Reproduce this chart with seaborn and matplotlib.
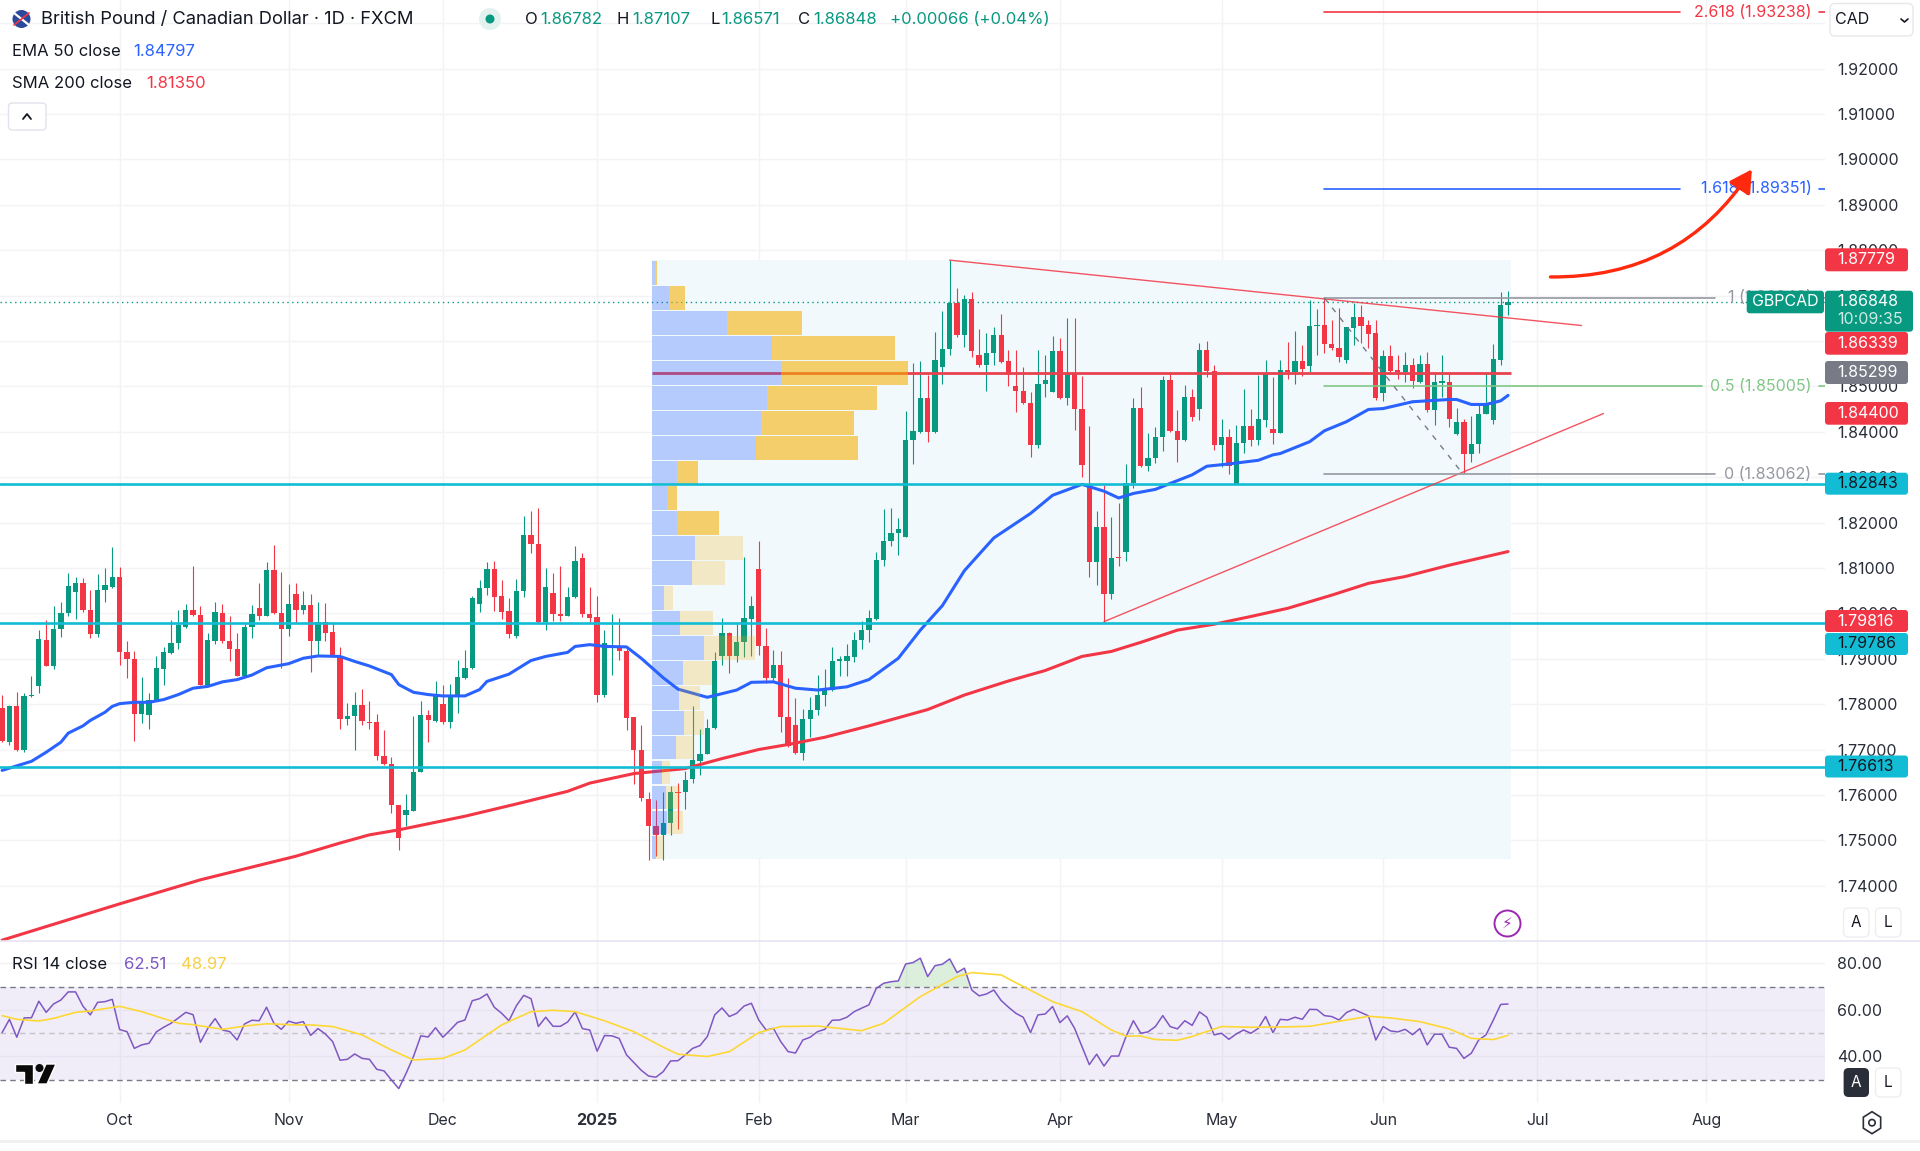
import numpy as np
import pandas as pd
import matplotlib
matplotlib.use("Agg")
import matplotlib.pyplot as plt
import seaborn as sns
from matplotlib.patches import FancyBboxPatch, FancyArrowPatch, Circle, Polygon, Rectangle
from matplotlib.transforms import IdentityTransform

sns.set_theme(style="white", rc={"font.family": "Inter"})

W, H = 1920, 1151

# --------------------------------------------------
# 1. VALUES
# --------------------------------------------------

opens = [
    1.7791, 1.7716, 1.7795, 1.7698, 1.7817, 1.7839, 1.7942, 1.7884, 1.7966, 1.8000,
    1.8046, 1.8066, 1.8008, 1.7955, 1.8052, 1.8059, 1.8080, 1.7914, 1.7899, 1.7778,
    1.7777, 1.7808, 1.7878, 1.7912, 1.7934, 1.7970, 1.8008, 1.7997, 1.7843, 1.7939,
    1.8000, 1.7939, 1.7922, 1.7863, 1.7969, 1.8011, 1.7994, 1.8096, 1.8000, 1.7965,
    1.8042, 1.8008, 1.8019, 1.7939, 1.7981, 1.7959, 1.7905, 1.7767, 1.7774, 1.7799,
    1.7761, 1.7760, 1.7686, 1.7668, 1.7578, 1.7556, 1.7565, 1.7651, 1.7777, 1.7763,
    1.7801, 1.7761, 1.7817, 1.7857, 1.7879, 1.8021, 1.8055, 1.8097, 1.8038, 1.8004,
    1.7949, 1.8049, 1.8172, 1.8153, 1.7980, 1.8044, 1.7999, 1.7994, 1.8036, 1.8122,
    1.7999, 1.7991, 1.7821, 1.7923, 1.7929, 1.7916, 1.7771, 1.7698, 1.7591, 1.7531,
    1.7511, 1.7538, 1.7607, 1.7607, 1.7634, 1.7675, 1.7690, 1.7747, 1.7907, 1.7956,
    1.7907, 1.7936, 1.7988, 1.8098, 1.7927, 1.7858, 1.7886, 1.7772, 1.7754, 1.7693,
    1.7767, 1.7786, 1.7820, 1.7831, 1.7896, 1.7895, 1.7903, 1.7941, 1.7963, 1.7988,
    1.8117, 1.8160, 1.8177, 1.8168, 1.8381, 1.8400, 1.8474, 1.8400, 1.8542, 1.8582,
    1.8683, 1.8613, 1.8692, 1.8568, 1.8547, 1.8574, 1.8612, 1.8555, 1.8500, 1.8489,
    1.8463, 1.8371, 1.8506, 1.8488, 1.8577, 1.8474, 1.8528, 1.8451, 1.8284, 1.8112,
    1.8190, 1.8043, 1.8123, 1.8134, 1.8286, 1.8453, 1.8324, 1.8341, 1.8389, 1.8514,
    1.8402, 1.8381, 1.8476, 1.8451, 1.8579, 1.8534, 1.8371, 1.8388, 1.8285, 1.8376,
    1.8413, 1.8382, 1.8426, 1.8405, 1.8398, 1.8537, 1.8532, 1.8556, 1.8545, 1.8633,
    1.8634, 1.8594, 1.8585, 1.8557, 1.8629, 1.8653, 1.8634, 1.8617, 1.8486, 1.8567,
    1.8536, 1.8532, 1.8546, 1.8509, 1.8550, 1.8448, 1.8508, 1.8509, 1.8394, 1.8421,
    1.8350, 1.8372, 1.8439, 1.8426, 1.8559, 1.8678,
]
closes = [
    1.7718, 1.7795, 1.7698, 1.7818, 1.7821, 1.7943, 1.7884, 1.7966, 1.8000, 1.8060,
    1.8066, 1.8008, 1.7955, 1.8052, 1.8062, 1.8080, 1.7914, 1.7899, 1.7779, 1.7804,
    1.7810, 1.7879, 1.7914, 1.7934, 1.7975, 1.8008, 1.7996, 1.7843, 1.7941, 1.8003,
    1.7938, 1.7921, 1.7863, 1.7969, 1.7998, 1.7994, 1.8096, 1.8000, 1.7965, 1.8021,
    1.8008, 1.8019, 1.7939, 1.7981, 1.7956, 1.7905, 1.7767, 1.7774, 1.7799, 1.7762,
    1.7759, 1.7685, 1.7667, 1.7578, 1.7504, 1.7567, 1.7651, 1.7777, 1.7766, 1.7823,
    1.7760, 1.7818, 1.7859, 1.7879, 1.8034, 1.8055, 1.8097, 1.8037, 1.8003, 1.7954,
    1.8050, 1.8172, 1.8152, 1.7980, 1.8058, 1.7999, 1.7994, 1.8036, 1.8115, 1.7999,
    1.7990, 1.7821, 1.7934, 1.7929, 1.7916, 1.7770, 1.7698, 1.7594, 1.7531, 1.7512,
    1.7539, 1.7606, 1.7604, 1.7633, 1.7676, 1.7691, 1.7747, 1.7895, 1.7956, 1.7907,
    1.7936, 1.7989, 1.8017, 1.7927, 1.7858, 1.7886, 1.7772, 1.7707, 1.7693, 1.7768,
    1.7787, 1.7821, 1.7833, 1.7895, 1.7899, 1.7905, 1.7941, 1.7963, 1.7989, 1.8118,
    1.8160, 1.8177, 1.8185, 1.8382, 1.8401, 1.8474, 1.8400, 1.8559, 1.8582, 1.8683,
    1.8613, 1.8692, 1.8577, 1.8547, 1.8573, 1.8612, 1.8554, 1.8524, 1.8489, 1.8463,
    1.8371, 1.8506, 1.8513, 1.8577, 1.8474, 1.8528, 1.8451, 1.8327, 1.8112, 1.8190,
    1.8043, 1.8121, 1.8121, 1.8286, 1.8453, 1.8324, 1.8342, 1.8389, 1.8514, 1.8402,
    1.8381, 1.8476, 1.8433, 1.8579, 1.8534, 1.8371, 1.8388, 1.8324, 1.8376, 1.8413,
    1.8382, 1.8427, 1.8529, 1.8398, 1.8537, 1.8531, 1.8556, 1.8539, 1.8633, 1.8635,
    1.8593, 1.8585, 1.8565, 1.8630, 1.8653, 1.8633, 1.8615, 1.8474, 1.8567, 1.8534,
    1.8532, 1.8546, 1.8512, 1.8550, 1.8448, 1.8509, 1.8511, 1.8427, 1.8421, 1.8350,
    1.8373, 1.8440, 1.8460, 1.8560, 1.8678, 1.8685,
]
highs = [
    1.7821, 1.7797, 1.7826, 1.7824, 1.7863, 1.7963, 1.7986, 1.8015, 1.8026, 1.8088,
    1.8079, 1.8077, 1.8052, 1.8087, 1.8099, 1.8146, 1.8103, 1.7938, 1.7917, 1.7859,
    1.7824, 1.7905, 1.7926, 1.7986, 1.8008, 1.8020, 1.8105, 1.8015, 1.7956, 1.8026,
    1.8020, 1.7994, 1.7956, 1.7977, 1.8018, 1.8066, 1.8112, 1.8150, 1.8090, 1.8065,
    1.8066, 1.8050, 1.8042, 1.8026, 1.8022, 1.7981, 1.7925, 1.7802, 1.7826, 1.7833,
    1.7807, 1.7778, 1.7744, 1.7683, 1.7578, 1.7602, 1.7773, 1.7806, 1.7788, 1.7850,
    1.7843, 1.7845, 1.7897, 1.7920, 1.8039, 1.8074, 1.8112, 1.8116, 1.8074, 1.8033,
    1.8075, 1.8215, 1.8226, 1.8232, 1.8099, 1.8088, 1.8105, 1.8058, 1.8149, 1.8133,
    1.8057, 1.8038, 1.7964, 1.7999, 1.7989, 1.7923, 1.7771, 1.7753, 1.7607, 1.7588,
    1.7607, 1.7620, 1.7627, 1.7653, 1.7795, 1.7746, 1.7768, 1.7914, 1.7989, 1.7959,
    1.7977, 1.8125, 1.8038, 1.8159, 1.7968, 1.7920, 1.7918, 1.7857, 1.7813, 1.7790,
    1.7815, 1.7865, 1.7878, 1.7925, 1.7907, 1.7932, 1.7959, 1.7984, 1.8008, 1.8134,
    1.8229, 1.8231, 1.8211, 1.8446, 1.8552, 1.8555, 1.8525, 1.8620, 1.8666, 1.8779,
    1.8716, 1.8701, 1.8707, 1.8626, 1.8617, 1.8631, 1.8660, 1.8579, 1.8579, 1.8542,
    1.8488, 1.8579, 1.8568, 1.8610, 1.8606, 1.8651, 1.8651, 1.8523, 1.8413, 1.8226,
    1.8283, 1.8213, 1.8242, 1.8328, 1.8475, 1.8498, 1.8398, 1.8411, 1.8523, 1.8529,
    1.8448, 1.8502, 1.8495, 1.8595, 1.8599, 1.8546, 1.8427, 1.8407, 1.8415, 1.8493,
    1.8449, 1.8525, 1.8558, 1.8521, 1.8558, 1.8598, 1.8622, 1.8591, 1.8691, 1.8670,
    1.8694, 1.8647, 1.8672, 1.8630, 1.8684, 1.8678, 1.8646, 1.8647, 1.8580, 1.8591,
    1.8569, 1.8575, 1.8562, 1.8570, 1.8575, 1.8527, 1.8569, 1.8527, 1.8453, 1.8429,
    1.8435, 1.8461, 1.8529, 1.8593, 1.8707, 1.8711,
]
lows = [
    1.7716, 1.7711, 1.7696, 1.7694, 1.7815, 1.7824, 1.7883, 1.7878, 1.7948, 1.7994,
    1.7987, 1.8003, 1.7945, 1.7947, 1.8025, 1.8055, 1.7887, 1.7857, 1.7718, 1.7758,
    1.7746, 1.7806, 1.7843, 1.7911, 1.7921, 1.7967, 1.7994, 1.7841, 1.7839, 1.7933,
    1.7934, 1.7894, 1.7861, 1.7861, 1.7945, 1.7986, 1.7993, 1.7999, 1.7879, 1.7950,
    1.7978, 1.7998, 1.7870, 1.7906, 1.7938, 1.7903, 1.7746, 1.7755, 1.7699, 1.7755,
    1.7745, 1.7677, 1.7665, 1.7561, 1.7479, 1.7532, 1.7564, 1.7650, 1.7716, 1.7760,
    1.7757, 1.7747, 1.7780, 1.7856, 1.7877, 1.8003, 1.8041, 1.8004, 1.7987, 1.7945,
    1.7945, 1.8037, 1.8133, 1.7977, 1.7964, 1.7982, 1.7982, 1.7994, 1.8033, 1.7992,
    1.7978, 1.7804, 1.7815, 1.7865, 1.7898, 1.7744, 1.7625, 1.7587, 1.7457, 1.7465,
    1.7457, 1.7511, 1.7525, 1.7568, 1.7627, 1.7643, 1.7689, 1.7746, 1.7887, 1.7869,
    1.7892, 1.7903, 1.7907, 1.7909, 1.7847, 1.7851, 1.7739, 1.7705, 1.7689, 1.7676,
    1.7727, 1.7775, 1.7795, 1.7829, 1.7862, 1.7862, 1.7892, 1.7921, 1.7937, 1.7986,
    1.8105, 1.8148, 1.8128, 1.8167, 1.8329, 1.8398, 1.8377, 1.8398, 1.8505, 1.8570,
    1.8609, 1.8586, 1.8564, 1.8543, 1.8489, 1.8548, 1.8551, 1.8500, 1.8444, 1.8462,
    1.8345, 1.8364, 1.8476, 1.8488, 1.8473, 1.8458, 1.8404, 1.8300, 1.8080, 1.8062,
    1.7981, 1.8031, 1.8105, 1.8116, 1.8276, 1.8323, 1.8314, 1.8330, 1.8358, 1.8400,
    1.8334, 1.8380, 1.8424, 1.8426, 1.8521, 1.8360, 1.8323, 1.8307, 1.8284, 1.8352,
    1.8369, 1.8371, 1.8411, 1.8373, 1.8397, 1.8515, 1.8505, 1.8523, 1.8532, 1.8569,
    1.8573, 1.8580, 1.8554, 1.8552, 1.8591, 1.8596, 1.8584, 1.8470, 1.8468, 1.8528,
    1.8517, 1.8510, 1.8497, 1.8508, 1.8444, 1.8415, 1.8477, 1.8411, 1.8392, 1.8308,
    1.8334, 1.8352, 1.8439, 1.8417, 1.8547, 1.8657,
]

ema_bars = [0, 2, 4, 6, 8, 9, 11, 12, 14, 15, 16, 18, 20, 22, 24, 26, 28, 30, 32, 34, 36, 39, 41, 43, 46,
            48, 50, 53, 54, 56, 58, 60, 63, 65, 66, 69, 72, 74, 77, 78, 80, 82, 85, 87, 90, 92, 96, 100,
            102, 105, 108, 111, 115, 118, 122, 125, 128, 131, 135, 140, 143, 147, 150, 152, 154, 157,
            159, 162, 164, 167, 171, 173, 174, 178, 180, 183, 186, 188, 192, 197, 198, 200, 202, 204, 205]
ema_vals = [1.7654, 1.7664, 1.7674, 1.7694, 1.7716, 1.7736, 1.7752, 1.7764, 1.7782, 1.7795, 1.7801, 1.7804,
            1.7804, 1.7810, 1.7821, 1.7835, 1.7839, 1.7849, 1.7854, 1.7864, 1.7880, 1.7889, 1.7901, 1.7906,
            1.7905, 1.7894, 1.7884, 1.7865, 1.7843, 1.7826, 1.7821, 1.7818, 1.7818, 1.7832, 1.7850, 1.7866,
            1.7896, 1.7905, 1.7914, 1.7927, 1.7931, 1.7927, 1.7926, 1.7901, 1.7858, 1.7833, 1.7815, 1.7831,
            1.7848, 1.7849, 1.7835, 1.7831, 1.7838, 1.7854, 1.7901, 1.7963, 1.8017, 1.8094, 1.8166, 1.8220,
            1.8260, 1.8284, 1.8269, 1.8254, 1.8264, 1.8273, 1.8286, 1.8305, 1.8324, 1.8329, 1.8337, 1.8349,
            1.8352, 1.8378, 1.8402, 1.8422, 1.8449, 1.8451, 1.8466, 1.8471, 1.8471, 1.8460, 1.8460, 1.8468,
            1.8480]

sma_bars = [0, 16, 27, 40, 46, 50, 54, 63, 70, 77, 80, 86, 93, 98, 103, 107, 112, 118, 122, 126, 131, 137,
            142, 147, 151, 155, 160, 165, 170, 175, 181, 186, 191, 197, 201, 205]
sma_vals = [1.7280, 1.7360, 1.7413, 1.7465, 1.7494, 1.7512, 1.7523, 1.7553, 1.7580, 1.7608, 1.7626, 1.7647,
            1.7658, 1.7680, 1.7700, 1.7711, 1.7727, 1.7752, 1.7770, 1.7788, 1.7820, 1.7851, 1.7874, 1.7905,
            1.7916, 1.7936, 1.7963, 1.7976, 1.7993, 1.8011, 1.8040, 1.8066, 1.8081, 1.8106, 1.8121, 1.8136]

rsi_vals = [
    50.2, 55.9, 48.2, 56.5, 56.6, 63.7, 58.9, 62.5, 64.2, 67.7, 67.7, 61.6, 57.8, 63.2, 63.5, 64.5, 51.5, 50.6,
    43.4, 44.9, 45.6, 50.5, 52.5, 54.2, 56.5, 58.9, 57.9, 46.0, 52.0, 56.2, 51.3, 50.6, 47.0, 53.9, 55.5, 55.3,
    61.1, 54.2, 51.6, 55.1, 54.2, 54.9, 49.0, 51.9, 49.6, 46.3, 38.3, 38.7, 41.0, 39.1, 38.7, 34.4, 33.7, 29.8,
    26.1, 32.7, 39.9, 48.8, 48.3, 52.3, 48.2, 51.3, 54.6, 55.6, 63.9, 64.8, 66.8, 61.1, 58.5, 55.3, 61.7, 66.2,
    64.8, 52.8, 56.8, 52.9, 52.9, 54.8, 59.1, 51.9, 51.3, 42.2, 48.9, 48.8, 47.7, 40.6, 37.3, 34.0, 31.5, 31.0,
    33.4, 38.0, 38.1, 40.6, 43.4, 44.6, 48.5, 57.8, 60.8, 57.1, 58.5, 61.6, 62.8, 55.6, 51.3, 52.0, 46.3, 42.0,
    41.4, 47.0, 48.2, 50.6, 51.6, 55.5, 55.6, 56.8, 59.2, 60.7, 62.1, 69.2, 71.4, 72.1, 72.4, 79.7, 80.3, 82.2,
    74.3, 79.0, 79.6, 81.9, 76.0, 77.9, 68.5, 66.0, 66.8, 68.5, 64.0, 61.1, 58.5, 56.8, 50.2, 57.8, 58.2, 61.4,
    54.5, 57.4, 52.0, 44.2, 36.4, 40.9, 35.8, 40.1, 40.1, 48.5, 55.3, 49.9, 50.5, 52.8, 57.5, 52.8, 51.8, 55.3,
    53.3, 59.1, 56.8, 49.2, 49.9, 47.3, 49.6, 51.3, 49.9, 52.0, 57.1, 50.2, 55.9, 55.6, 56.8, 55.9, 60.2, 60.1,
    57.5, 57.1, 55.6, 58.8, 60.2, 58.8, 57.4, 47.0, 52.8, 50.9, 50.5, 51.6, 49.3, 51.9, 44.9, 49.5, 49.5, 43.9,
    43.4, 39.1, 41.3, 47.0, 49.2, 55.6, 62.3, 62.5,
]

rsi_ma_bars = [0, 2, 5, 7, 10, 12, 16, 19, 24, 26, 30, 33, 36, 40, 42, 45, 49, 53, 56, 60, 63, 68, 72, 75, 78,
               82, 86, 90, 92, 96, 99, 103, 106, 111, 117, 120, 125, 130, 132, 136, 139, 143, 147, 151, 153,
               155, 157, 160, 162, 166, 170, 174, 178, 183, 186, 189, 193, 197, 200, 203, 205]
rsi_ma_vals = [57.5, 55.9, 55.2, 56.3, 58.9, 59.5, 61.5, 59.2, 54.2, 53.6, 51.6, 53.0, 54.0, 53.5, 53.5, 52.8,
               49.2, 42.7, 38.4, 39.1, 42.7, 53.5, 59.2, 59.8, 59.2, 55.3, 50.6, 43.9, 40.9, 39.9, 42.0, 50.2,
               52.8, 53.0, 51.0, 54.2, 65.7, 74.3, 76.0, 75.0, 70.0, 63.5, 59.2, 51.3, 48.7, 48.7, 47.2, 46.9,
               48.5, 52.8, 52.5, 52.6, 52.9, 55.6, 57.2, 56.5, 54.9, 51.8, 47.7, 47.2, 49.0]

# volume profile rows, top to bottom, row bottoms in price and widths in bars
vp_bottoms = [1.8723, 1.8668, 1.8613, 1.8558, 1.8503, 1.8448, 1.8393, 1.8338, 1.8283, 1.8228, 1.8173, 1.8118,
              1.8063, 1.8008, 1.7953, 1.7898, 1.7843, 1.7788, 1.7733, 1.7678, 1.7623, 1.7568, 1.7513, 1.7458]
vp_up = [0.45, 2.36, 10.2, 16.3, 17.6, 15.65, 14.9, 14.1, 3.36, 2.0, 3.36, 5.9, 5.5, 1.63, 3.8, 7.08, 4.17,
         3.63, 4.36, 3.22, 1.32, 1.9, 2.0, 0.54]
vp_down = [0.18, 2.09, 10.2, 16.83, 17.2, 14.93, 12.66, 13.93, 2.9, 1.36, 5.8, 6.49, 4.45, 1.27, 4.54, 6.99,
           4.0, 2.9, 2.72, 2.5, 1.13, 1.9, 2.27, 1.0]
vp_solid_rows = 11

price_ticks = [1.74, 1.75, 1.76, 1.77, 1.78, 1.79, 1.80, 1.81, 1.82, 1.83, 1.84, 1.85, 1.86, 1.87, 1.88, 1.89,
               1.90, 1.91, 1.92]
month_bars = [16, 39, 60, 81, 103, 123, 144, 166, 188, 209, 232]
month_labels = ["Oct", "Nov", "Dec", "2025", "Feb", "Mar", "Apr", "May", "Jun", "Jul", "Aug"]

support_levels = [1.82843, 1.79786, 1.76613]
poc_level = 1.85299
last_close = 1.86848
fib_levels = [1.93238, 1.89351, 1.86948, 1.85005, 1.83062]
fib_names = ["2.618", "1.618", "1", "0.5", "0"]
fib_colors = ["#f23645", "#2962ff", "#9598a1", "#81c784", "#9598a1"]
fib_ends = [228.4, 228.4, 233.2, 231.4, 233.2]

GREEN = "#089981"
RED = "#f23645"
CYAN = "#12bcd4"
TEXT = "#131722"
GRID = "#f3f3f6"


# --------------------------------------------------
# 2. PANES
# --------------------------------------------------

X0 = -0.286
X1 = 248.15

fig = plt.figure(figsize=(W / 100, H / 100), dpi=100, facecolor="white")
ax = fig.add_axes([0, 1 - 941 / H, 1825 / W, 941 / H])
ax_rsi = fig.add_axes([0, 1 - 1103 / H, 1825 / W, 162 / H])

for a in [ax, ax_rsi]:
    for s in a.spines.values():
        s.set_visible(False)
    a.set_xlim(X0, X1)
    a.set_xticks(month_bars)
    a.yaxis.tick_right()
    a.tick_params(axis="y", length=0, pad=8.6, labelsize=11.5, labelcolor="#2a2e39")
    a.tick_params(axis="x", length=0)
    a.grid(True, color=GRID, linewidth=1.0, zorder=0)
    a.set_axisbelow(True)

ax.set_ylim(1.72782, 1.93509)
ax.set_yticks(price_ticks + [1.93])
ax.set_yticklabels([f"{p:.5f}" for p in price_ticks] + [""])
ax.tick_params(labelbottom=False)

ax_rsi.set_ylim(19.9, 89.6)
ax_rsi.set_yticks([40, 60, 80])
ax_rsi.set_yticklabels(["40.00", "60.00", "80.00"])
ax_rsi.set_xticklabels(month_labels, fontsize=11.5, color="#2a2e39")
ax_rsi.tick_params(axis="x", pad=7.5)
for lab in ax_rsi.get_xticklabels():
    if lab.get_text() == "2025":
        lab.set_fontweight("bold")


# --------------------------------------------------
# 3. PRICE PANE
# --------------------------------------------------

bars = np.arange(len(closes))
o = np.array(opens)
c = np.array(closes)
colors = [GREEN if up else RED for up in c >= o]

# profile background
ax.add_patch(Rectangle((88.47, 1.7459), 205.4 - 88.47, 1.8778 - 1.7459, facecolor="#f2f9fd", edgecolor="none", zorder=1))

ax.vlines(bars, lows, highs, colors=colors, linewidth=0.8, zorder=3)
ax.bar(bars, np.abs(c - o), bottom=np.minimum(o, c), width=0.72, color=colors, linewidth=0, zorder=3)

ema_df = pd.DataFrame({"bar": ema_bars, "value": ema_vals})
sma_df = pd.DataFrame({"bar": sma_bars, "value": sma_vals})
sns.lineplot(data=ema_df, x="bar", y="value", ax=ax, color="#2962ff", linewidth=2.2, estimator=None, zorder=3.2)
sns.lineplot(data=sma_df, x="bar", y="value", ax=ax, color=RED, linewidth=2.2, estimator=None, zorder=3.2)
ax.set_xlabel("")
ax.set_ylabel("")

ax.hlines(poc_level, 88.47, 205.4, color="#e8424f", linewidth=2.0, zorder=3.5)

# volume profile over the candles
for i, (bottom, up, down) in enumerate(zip(vp_bottoms, vp_up, vp_down)):
    alpha = 0.58 if i < vp_solid_rows else 0.22
    ax.barh(bottom + 0.0026, up, height=0.0052, left=88.47, color="#2962ff", alpha=0.3, linewidth=0, zorder=4)
    ax.barh(bottom + 0.0026, down, height=0.0052, left=88.47 + up, color="#f5b000", alpha=alpha, linewidth=0, zorder=4)

for level in support_levels:
    ax.axhline(level, color=CYAN, linewidth=1.9, zorder=5)
ax.axhline(last_close, color=GREEN, linewidth=1.0, linestyle=(0, (1, 2.5)), zorder=2.5)

# trend lines
ax.plot([129, 215], [1.87779, 1.86339], color=RED, linewidth=1.0, alpha=0.85, zorder=5)
ax.plot([150, 218], [1.79816, 1.84400], color=RED, linewidth=1.0, alpha=0.85, zorder=5)

# fibonacci levels
for level, name, col, end in zip(fib_levels, fib_names, fib_colors, fib_ends):
    ax.plot([180, end], [level, level], color=col, linewidth=1.2, zorder=5)
    ax.plot([247.3, 248.15], [level, level], color=col, linewidth=1.2, zorder=5)
    ax.text(246.3, level, f"{name} ({level:.5f})", color=col, fontsize=11.5, ha="right", va="center", zorder=5)
ax.plot([180, 198.9], [1.86948, 1.83062], color="#787b86", linewidth=1.0, linestyle=(0, (4, 5)), zorder=5)

# hand drawn arrow
ax.add_patch(FancyArrowPatch((210.4, 1.8741), (238.4, 1.8983), connectionstyle="arc3,rad=0.28",
                             arrowstyle="-|>,head_length=0.75,head_width=0.42", mutation_scale=18,
                             color="#ff2a0d", linewidth=2.4, zorder=6))


# --------------------------------------------------
# 4. RSI PANE
# --------------------------------------------------

rsi = np.array(rsi_vals)
ax_rsi.axhspan(30, 70, color="#7e57c2", alpha=0.1, linewidth=0, zorder=1)
ax_rsi.fill_between(np.arange(len(rsi)), 70, rsi, where=rsi > 70, interpolate=True, color="#4caf50", alpha=0.2, linewidth=0, zorder=1.5)
ax_rsi.axhline(70, color="#787b86", linewidth=1.0, linestyle=(0, (4, 3)), zorder=2)
ax_rsi.axhline(30, color="#787b86", linewidth=1.0, linestyle=(0, (4, 3)), zorder=2)
ax_rsi.axhline(50, color="#c4c4c8", linewidth=1.0, linestyle=(0, (4, 3)), zorder=2)

rsi_df = pd.DataFrame({"bar": bars, "value": rsi_vals})
rsi_ma_df = pd.DataFrame({"bar": rsi_ma_bars, "value": rsi_ma_vals})
sns.lineplot(data=rsi_df, x="bar", y="value", ax=ax_rsi, color="#7e57c2", linewidth=1.1, estimator=None, zorder=3)
sns.lineplot(data=rsi_ma_df, x="bar", y="value", ax=ax_rsi, color="#fdd835", linewidth=1.2, estimator=None, zorder=3)
ax_rsi.set_xlabel("")
ax_rsi.set_ylabel("")


# --------------------------------------------------
# 5. OVERLAY TEXT, TAGS AND BUTTONS (figure pixels)
# --------------------------------------------------

def label(x, y, text, color=TEXT, size=12, ha="left", **kw):
    fig.text(x / W, 1 - y / H, text, color=color, fontsize=size, ha=ha, va="center", zorder=10, **kw)


def box(x0, y0, x1, y1, face, edge="none", round_px=3, zorder=8, lw=1.0):
    fig.add_artist(FancyBboxPatch((x0, H - y1), x1 - x0, y1 - y0, boxstyle=f"round,pad=0,rounding_size={round_px}",
                                  facecolor=face, edgecolor=edge, linewidth=lw, transform=IdentityTransform(), zorder=zorder))


def disc(x, y, r, face, edge="none", lw=1.0, zorder=9):
    fig.add_artist(Circle((x, H - y), r, facecolor=face, edgecolor=edge, linewidth=lw, transform=IdentityTransform(), zorder=zorder))


# header
disc(21.5, 19, 9, "#2b4a9b")
fig.add_artist(plt.Line2D([14, 29], [H - 13, H - 25], color="white", linewidth=1.6, transform=IdentityTransform(), zorder=9))
fig.add_artist(plt.Line2D([14, 29], [H - 25, H - 13], color=RED, linewidth=1.2, transform=IdentityTransform(), zorder=9))
label(41, 19, "British Pound / Canadian Dollar · 1D · FXCM", size=13.2)
disc(490, 19, 11, "#e3f2ef")
disc(490, 19, 4.5, GREEN, zorder=10)
for x, key, x2, val in [(525, "O", 540, "1.86782"), (617, "H", 632, "1.87107"), (710, "L", 721, "1.86571"), (798, "C", 813, "1.86848")]:
    label(x, 19, key)
    label(x2, 19, val, color=GREEN)
label(890, 19, "+0.00066 (+0.04%)", color=GREEN)

label(12, 51, "EMA 50 close")
label(133, 51, "1.84797", color="#2962ff")
label(12, 84, "SMA 200 close")
label(146, 84, "1.81350", color=RED)
box(8.5, 103, 46, 130, "white", edge="#e0e3eb", round_px=4)
fig.add_artist(plt.Line2D([23, 27, 31], [H - 119, H - 114, H - 119], color=TEXT, linewidth=1.3, transform=IdentityTransform(), zorder=9))

# currency drop down
box(1830, 3.5, 1913, 36, "white", edge="#e8e8ec", round_px=5)
label(1835, 20, "CAD", size=11.5)
fig.add_artist(plt.Line2D([1901, 1904.5, 1908], [H - 19, H - 22, H - 19], color=TEXT, linewidth=1.2, transform=IdentityTransform(), zorder=9))

# price tags
tags = [
    (248.3, 271.3, "1.87779", RED, "white"),
    (332, 354.7, "1.86339", RED, "white"),
    (361, 384, "1.85299", "#787b86", "white"),
    (402, 424.7, "1.84400", RED, "white"),
    (472.7, 494.7, "1.82843", CYAN, TEXT),
    (610, 632, "1.79816", RED, "white"),
    (633, 655, "1.79786", CYAN, TEXT),
    (755.5, 777.5, "1.76613", CYAN, TEXT),
]
for y0, y1, text, face, fg in tags:
    box(1825, y0, 1908, y1, face)
    label(1837, (y0 + y1) / 2, text, color=fg, size=11.5)

box(1746.7, 290.7, 1824, 313.3, GREEN)
label(1785, 302, "GBPCAD", color="white", size=11.5, ha="center")
box(1825, 290.7, 1913, 331.7, GREEN)
label(1837, 301.7, "1.86848", color="white", size=11.5)
label(1837, 320, "10:09:35", color="#cfeae4", size=11.5)

# A / L buttons
box(1843.6, 908, 1869, 937, "white", edge="#eeeef2", round_px=5)
box(1875.5, 908, 1901, 937, "white", edge="#eeeef2", round_px=5)
label(1856.3, 922.5, "A", size=11, ha="center")
label(1888.2, 922.5, "L", size=11, ha="center")
box(1843.6, 1068, 1869, 1097, "#2a2e39", round_px=5)
box(1875.5, 1068, 1901, 1097, "white", edge="#eeeef2", round_px=5)
label(1856.3, 1082.5, "A", color="white", size=11, ha="center")
label(1888.2, 1082.5, "L", size=11, ha="center")

# settings icon
hexagon = [(1872 + 10 * np.sin(t), H - 1122.7 + 11 * np.cos(t)) for t in np.deg2rad(np.arange(0, 360, 60))]
fig.add_artist(Polygon(hexagon, closed=True, facecolor="white", edgecolor="#2a2e39", linewidth=1.2, transform=IdentityTransform(), zorder=9))
disc(1872, 1122.7, 3.2, "white", edge="#2a2e39", lw=1.2, zorder=10)

# lightning badge
disc(1507.5, 923.5, 13, "white", edge="#9c27b0", lw=1.4)
label(1507.5, 923.5, "\u26a1", color="#9c27b0", size=11, ha="center", family="DejaVu Sans")

# rsi legend
label(12, 964.7, "RSI 14 close")
label(123.7, 964.7, "62.51", color="#7e57c2")
label(180.6, 964.7, "48.97", color="#f5cf4a")

# logo
for pts in [[(15, 1064), (33, 1064), (33, 1084), (24, 1084), (24, 1072), (15, 1072)],
            [(46, 1064), (56, 1064), (47, 1084), (37, 1084)]]:
    flipped = [(x, H - y) for x, y in pts]
    fig.add_artist(Polygon(flipped, closed=True, facecolor="#0a0a0a", edgecolor="white", linewidth=1.0, transform=IdentityTransform(), zorder=9))
disc(39.5, 1068, 4, "#0a0a0a")

# pane separators
fig.add_artist(plt.Line2D([0, W], [H - 941, H - 941], color="#e6e4f0", linewidth=1.2, transform=IdentityTransform(), zorder=7))
fig.add_artist(Rectangle((0, H - 1143), W, 3, facecolor="#f0f0f3", edgecolor="none", transform=IdentityTransform(), zorder=7))

fig.savefig("out.png", dpi=100, facecolor="white")
